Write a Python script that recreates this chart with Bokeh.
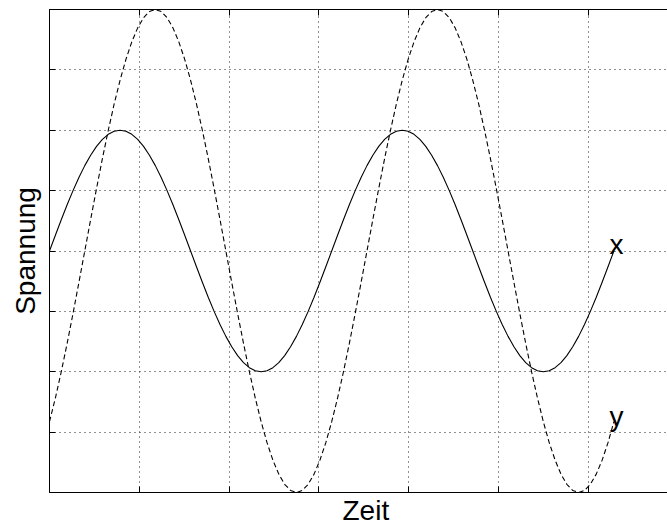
import math
from bokeh.plotting import figure
from bokeh.models import FixedTicker, LinearAxis, Label, Range1d, Title
from bokeh.embed import file_html
from bokeh.resources import INLINE

# time in degrees (x axis is drawn in radians)
t_deg = [0, 7.5, 15, 22.5, 30, 37.5, 45, 52.5, 60, 67.5, 75, 82.5, 90, 97.5, 105, 112.5,
         120, 127.5, 135, 142.5, 150, 157.5, 165, 172.5, 180, 187.5, 195, 202.5, 210, 217.5,
         225, 232.5, 240, 247.5, 255, 262.5, 270, 277.5, 285, 292.5, 300, 307.5, 315, 322.5,
         330, 337.5, 345, 352.5, 360, 367.5, 375, 382.5, 390, 397.5, 405, 412.5, 420, 427.5,
         435, 442.5, 450, 457.5, 465, 472.5, 480, 487.5, 495, 502.5, 510, 517.5, 525, 532.5,
         540, 547.5, 555, 562.5, 570, 577.5, 585, 592.5, 600, 607.5, 615, 622.5, 630, 637.5,
         645, 652.5, 660, 667.5, 675, 682.5, 690, 697.5, 705, 712.5, 720]

# solid curve "x"
x_vals = [0.0, 0.261, 0.518, 0.765, 1.0, 1.218, 1.414, 1.587, 1.732, 1.848, 1.932, 1.983,
          2.0, 1.983, 1.932, 1.848, 1.732, 1.587, 1.414, 1.218, 1.0, 0.765, 0.518, 0.261,
          0.0, -0.261, -0.518, -0.765, -1.0, -1.218, -1.414, -1.587, -1.732, -1.848, -1.932, -1.983,
          -2.0, -1.983, -1.932, -1.848, -1.732, -1.587, -1.414, -1.218, -1.0, -0.765, -0.518, -0.261,
          0.0, 0.261, 0.518, 0.765, 1.0, 1.218, 1.414, 1.587, 1.732, 1.848, 1.932, 1.983,
          2.0, 1.983, 1.932, 1.848, 1.732, 1.587, 1.414, 1.218, 1.0, 0.765, 0.518, 0.261,
          0.0, -0.261, -0.518, -0.765, -1.0, -1.218, -1.414, -1.587, -1.732, -1.848, -1.932, -1.983,
          -2.0, -1.983, -1.932, -1.848, -1.732, -1.587, -1.414, -1.218, -1.0, -0.765, -0.518, -0.261,
          0.0]

# dashed curve "y"
y_vals = [-2.828, -2.435, -2.0, -1.531, -1.035, -0.522, 0.0, 0.522, 1.035, 1.531, 2.0, 2.435,
          2.828, 3.174, 3.464, 3.696, 3.864, 3.966, 4.0, 3.966, 3.864, 3.696, 3.464, 3.174,
          2.828, 2.435, 2.0, 1.531, 1.035, 0.522, 0.0, -0.522, -1.035, -1.531, -2.0, -2.435,
          -2.828, -3.174, -3.464, -3.696, -3.864, -3.966, -4.0, -3.966, -3.864, -3.696, -3.464, -3.174,
          -2.828, -2.435, -2.0, -1.531, -1.035, -0.522, 0.0, 0.522, 1.035, 1.531, 2.0, 2.435,
          2.828, 3.174, 3.464, 3.696, 3.864, 3.966, 4.0, 3.966, 3.864, 3.696, 3.464, 3.174,
          2.828, 2.435, 2.0, 1.531, 1.035, 0.522, 0.0, -0.522, -1.035, -1.531, -2.0, -2.435,
          -2.828, -3.174, -3.464, -3.696, -3.864, -3.966, -4.0, -3.966, -3.864, -3.696, -3.464, -3.174,
          -2.828]

x_ticks = [0, 2, 4, 6, 8, 10, 12, 14]
y_ticks = [-4, -3, -2, -1, 0, 1, 2, 3, 4]

x_label = "Zeit"
y_label = "Spannung"
curve_names = ["x", "y"]

t = [d * math.pi / 180.0 for d in t_deg]

FONT = "Liberation Sans"
FS = "28px"

p = figure(width=667, height=525, output_backend="svg", toolbar_location=None,
           x_range=Range1d(0, 13.76), y_range=Range1d(-4, 4),
           x_axis_location=None, y_axis_location=None)
p.min_border_left = 49
p.min_border_right = 0
p.min_border_top = 9
p.min_border_bottom = 33
p.outline_line_color = None
p.background_fill_color = "white"
p.border_fill_color = "white"

def style_axis(ax, ticks):
    ax.ticker = FixedTicker(ticks=ticks)
    ax.major_label_overrides = {v: "" for v in ticks}
    ax.major_label_text_font_size = "1px"
    ax.major_label_standoff = 0
    ax.major_tick_out = 0
    ax.major_tick_in = 6
    ax.minor_tick_line_color = None
    ax.axis_line_color = "black"
    ax.major_tick_line_color = "black"
    ax.axis_line_width = 1
    ax.axis_label_text_font = FONT
    ax.axis_label_text_font_size = FS
    ax.axis_label_text_font_style = "normal"
    ax.axis_label_text_color = "black"

left = LinearAxis(axis_label=y_label)
style_axis(left, y_ticks)
left.axis_label_standoff = 9
p.add_layout(left, "left")
bottom = LinearAxis()
style_axis(bottom, x_ticks)
p.add_layout(bottom, "below")
top = LinearAxis()
style_axis(top, x_ticks)
p.add_layout(top, "above")

p.add_layout(Title(text=x_label, align="left", offset=293, standoff=0,
                   text_font=FONT, text_font_size=FS, text_font_style="normal",
                   text_color="black"), "below")

p.xgrid.ticker = FixedTicker(ticks=x_ticks)
p.ygrid.ticker = FixedTicker(ticks=y_ticks)
for g in (p.xgrid, p.ygrid):
    g.grid_line_color = "#222222"
    g.grid_line_dash = "1 4"
    g.grid_line_width = 1

p.line(t, x_vals, line_color="black", line_width=1.1)
p.line(t, y_vals, line_color="black", line_width=1.1, line_dash="5 3")

p.add_layout(Label(x=12.47, y=0.11, text=curve_names[0], text_font=FONT, text_font_size=FS,
                   text_align="left", text_baseline="alphabetic", text_color="black"))
p.add_layout(Label(x=12.47, y=-2.74, text=curve_names[1], text_font=FONT, text_font_size=FS,
                   text_align="left", text_baseline="alphabetic", text_color="black"))

open("out.html", "w").write(file_html(p, INLINE))
